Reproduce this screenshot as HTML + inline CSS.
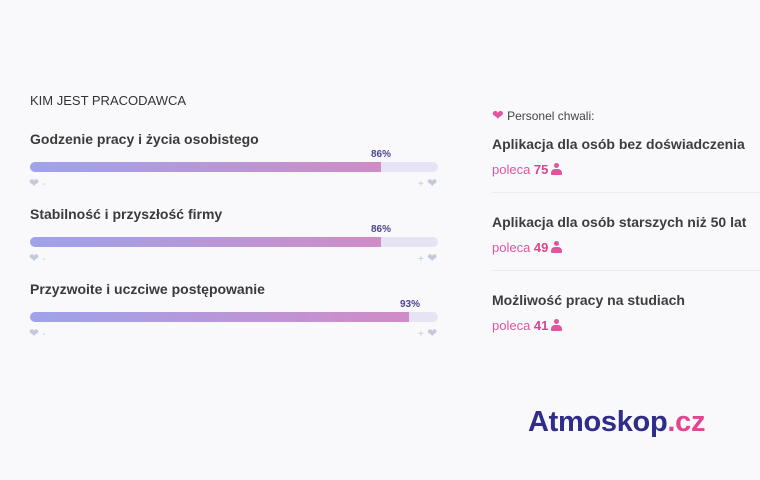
<!DOCTYPE html>
<html><head><meta charset="utf-8"><style>
body{margin:0;width:760px;height:480px;background:#f9f9fc;font-family:"Liberation Sans",sans-serif;position:relative;overflow:hidden;color:#3a3a3a}
.a{position:absolute}
.h{font-size:13px;color:#333}
.t{font-size:14px;font-weight:bold;color:#3a3a3a}
.bar{position:absolute;left:30px;width:408px;height:10px;border-radius:5px;background:#e6e4f4;overflow:hidden}
.fill{height:100%;background:linear-gradient(90deg,#9ea3ea,#d08cc6)}
.pct{font-size:10px;font-weight:bold;color:#4a478e}
.ic{font-size:12px;color:#c5cadb}
.ic span{font-size:10px}
.r{font-size:14px;font-weight:bold;color:#3d3d3d}
.p{font-size:13px;color:#e0559d}
.p b{color:#d8448f}
.div{position:absolute;left:492px;width:268px;height:1px;background:#ebebf0}
.pi{display:inline-block;position:relative;width:11px;height:12px;vertical-align:-1px;margin-left:3px}
.pi:before{content:"";position:absolute;left:3px;top:0;width:5px;height:5px;border-radius:50%;background:#e0559d}
.pi:after{content:"";position:absolute;left:0;top:6px;width:11px;height:6px;border-radius:4px 4px 1px 1px;background:#e0559d}
</style></head><body>
<div class="a h" style="left:30px;top:93px">KIM JEST PRACODAWCA</div>

<div class="a t" style="left:30px;top:131px">Godzenie pracy i życia osobistego</div>
<div class="a pct" style="left:371px;top:149px">86%</div>
<div class="bar" style="top:162px"><div class="fill" style="width:86%"></div></div>
<div class="a ic" style="left:29px;top:176px">❤ <span>-</span></div>
<div class="a ic" style="left:418px;top:176px"><span>+</span> ❤</div>

<div class="a t" style="left:30px;top:206px">Stabilność i przyszłość firmy</div>
<div class="a pct" style="left:371px;top:224px">86%</div>
<div class="bar" style="top:237px"><div class="fill" style="width:86%"></div></div>
<div class="a ic" style="left:29px;top:251px">❤ <span>-</span></div>
<div class="a ic" style="left:418px;top:251px"><span>+</span> ❤</div>

<div class="a t" style="left:30px;top:281px">Przyzwoite i uczciwe postępowanie</div>
<div class="a pct" style="left:400px;top:299px">93%</div>
<div class="bar" style="top:312px"><div class="fill" style="width:93%"></div></div>
<div class="a ic" style="left:29px;top:326px">❤ <span>-</span></div>
<div class="a ic" style="left:418px;top:326px"><span>+</span> ❤</div>

<div class="a" style="left:492px;top:107px;font-size:12px;color:#444"><span style="color:#e0559d;font-size:14px">❤</span> Personel chwali:</div>
<div class="a r" style="left:492px;top:136px">Aplikacja dla osób bez doświadczenia</div>
<div class="a p" style="left:492px;top:162px">poleca <b>75</b><span class="pi"></span></div>
<div class="div" style="top:192px"></div>
<div class="a r" style="left:492px;top:214px">Aplikacja dla osób starszych niż 50 lat</div>
<div class="a p" style="left:492px;top:240px">poleca <b>49</b><span class="pi"></span></div>
<div class="div" style="top:270px"></div>
<div class="a r" style="left:492px;top:292px">Możliwość pracy na studiach</div>
<div class="a p" style="left:492px;top:318px">poleca <b>41</b><span class="pi"></span></div>

<div class="a" style="left:528px;top:406px;font-size:29px;font-weight:bold;color:#2f2c8a;letter-spacing:-0.3px">Atmoskop<span style="color:#e24592">.cz</span></div>
</body></html>
